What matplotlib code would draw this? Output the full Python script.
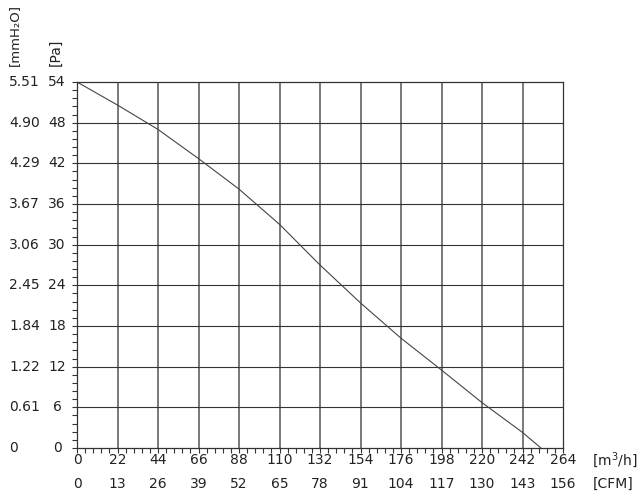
import numpy as np
import matplotlib.pyplot as plt
from matplotlib.ticker import MultipleLocator

# air flow [m3/h] vs static pressure [Pa]
flow = [0, 22, 44, 66, 88, 110, 132, 154, 176, 198, 220, 242, 252]
pressure = [54, 50.6, 47.0, 42.7, 38.2, 33.0, 27.0, 21.4, 16.2, 11.5, 6.7, 2.3, 0]

m3h_ticks = [0, 22, 44, 66, 88, 110, 132, 154, 176, 198, 220, 242, 264]
cfm_labels = ["0", "13", "26", "39", "52", "65", "78", "91", "104", "117", "130", "143", "156"]
pa_ticks = [0, 6, 12, 18, 24, 30, 36, 42, 48, 54]
mmh2o_labels = ["0", "0.61", "1.22", "1.84", "2.45", "3.06", "3.67", "4.29", "4.90", "5.51"]

txt = "#222222"
fs = 10

fig = plt.figure(figsize=(6.4, 4.93), dpi=100)
ax = fig.add_axes([77 / 640, 1 - 448 / 493, 486 / 640, 366 / 493])

ax.plot(flow, pressure, color="#444444", lw=0.8)

ax.set_xlim(0, 264)
ax.set_ylim(0, 54)
ax.set_xticks(m3h_ticks)
ax.set_yticks(pa_ticks)
ax.xaxis.set_minor_locator(MultipleLocator(22 / 5))
ax.yaxis.set_minor_locator(MultipleLocator(6 / 5))
ax.tick_params(which="both", direction="out", length=3.5, width=0.8, color="#333333")
ax.set_xticklabels([])
ax.set_yticklabels([])

for x in m3h_ticks[1:-1]:
    ax.axvline(x, color="#555555", lw=1.1, zorder=0)
for y in pa_ticks[1:-1]:
    ax.axhline(y, color="#333333", lw=0.8, zorder=0)
for s in ax.spines.values():
    s.set_color("#333333")
    s.set_linewidth(0.9)

# bottom rows: m3/h and CFM
xt = ax.get_xaxis_transform()
for x, c in zip(m3h_ticks, cfm_labels):
    ax.text(x, -12 / 366, str(x), transform=xt, ha="center", va="center", fontsize=fs, color=txt)
    ax.text(x, -36 / 366, c, transform=xt, ha="center", va="center", fontsize=fs, color=txt)
ax.text(1.06, -12 / 366, "[m$^3$/h]", transform=ax.transAxes, ha="left", va="center",
        fontsize=fs, color=txt)
ax.text(1.062, -36 / 366, "[CFM]", transform=ax.transAxes, ha="left", va="center",
        fontsize=fs, color=txt)

# left columns: mmH2O and Pa
yt = ax.get_yaxis_transform()
for y, m in zip(pa_ticks, mmh2o_labels):
    ax.text(-20 / 486, y, str(y), transform=yt, ha="center", va="center", fontsize=fs, color=txt)
    ax.text(-68 / 486, y, m, transform=yt, ha="left", va="center", fontsize=fs, color=txt)
ax.text(-63 / 486, 1 + 16 / 366, "[mmH\u2082O]", transform=ax.transAxes, rotation=90,
        ha="center", va="bottom", fontsize=9.5, color=txt)
ax.text(-21 / 486, 1 + 16 / 366, "[Pa]", transform=ax.transAxes, rotation=90,
        ha="center", va="bottom", fontsize=fs, color=txt)

fig.savefig("out.png", dpi=100)
